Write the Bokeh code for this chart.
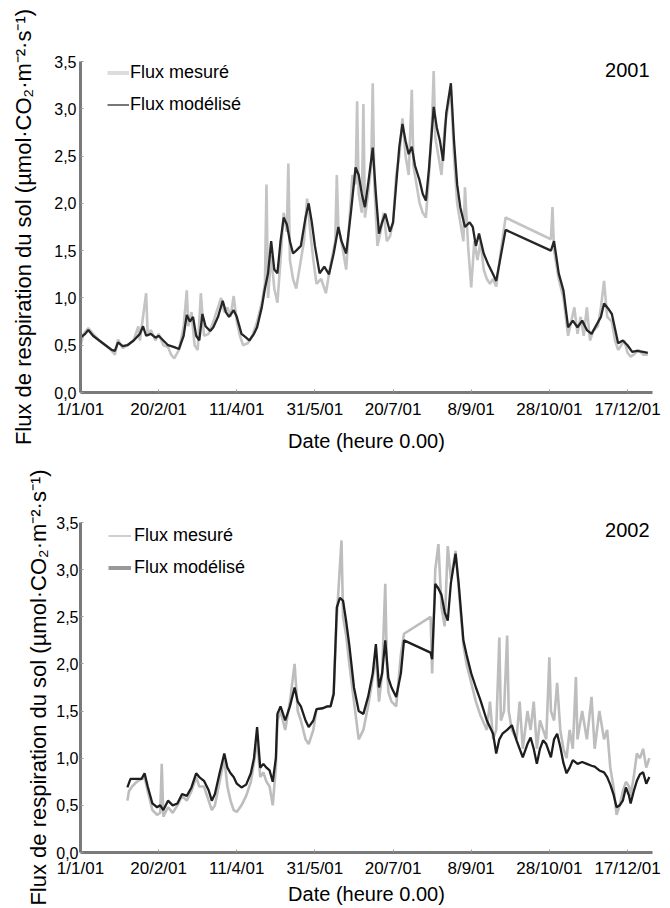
from bokeh.plotting import figure
from bokeh.models import Range1d, FixedTicker, Legend, LegendItem, Label
from bokeh.layouts import column
from bokeh.embed import file_html
from bokeh.resources import INLINE

FONT = "Liberation Sans"

tick_days = [0, 50, 100, 150, 200, 250, 300, 350]
tick_labels = ["1/1/01", "20/2/01", "11/4/01", "31/5/01", "20/7/01", "8/9/01", "28/10/01", "17/12/01"]
y_ticks = [0, 0.5, 1.0, 1.5, 2.0, 2.5, 3.0, 3.5]
y_tick_labels = ["0,0", "0,5", "1,0", "1,5", "2,0", "2,5", "3,0", "3,5"]

# ---- 2001 ----
mod01_days = [0, 3, 5, 8, 12, 16, 20, 22, 24, 27, 30, 34, 38, 40, 42, 45, 48, 50, 53, 56, 60, 63, 66, 68, 70, 72, 74, 76, 78, 80, 83, 85, 88, 91, 93, 95, 98, 100, 103, 106, 108, 111, 113, 116, 118, 120, 122, 124, 126, 128, 130, 132, 134, 136, 138, 141, 144, 146, 148, 150, 153, 156, 159, 162, 165, 167, 170, 173, 176, 178, 180, 182, 184, 187, 189, 191, 193, 195, 198, 200, 202, 204, 206, 208, 210, 212, 214, 217, 219, 221, 223, 226, 228, 230, 232, 234, 237, 239, 241, 243, 246, 249, 251, 253, 255, 258, 261, 264, 266, 269, 272, 301, 303, 306, 309, 312, 315, 318, 321, 324, 327, 330, 333, 335, 338, 340, 344, 347, 350, 353, 356, 360, 363]
mod01_vals = [0.58, 0.62, 0.66, 0.6, 0.55, 0.5, 0.45, 0.44, 0.53, 0.49, 0.5, 0.55, 0.62, 0.7, 0.6, 0.62, 0.58, 0.6, 0.55, 0.5, 0.48, 0.46, 0.6, 0.82, 0.75, 0.8, 0.6, 0.55, 0.83, 0.7, 0.65, 0.69, 0.8, 0.97, 0.85, 0.8, 0.87, 0.8, 0.62, 0.58, 0.55, 0.62, 0.69, 0.9, 1.1, 1.26, 1.6, 1.3, 1.26, 1.6, 1.85, 1.78, 1.6, 1.47, 1.5, 1.55, 1.85, 2.0, 1.8, 1.55, 1.26, 1.33, 1.25, 1.47, 1.75, 1.6, 1.47, 1.9, 2.38, 2.3, 2.1, 1.96, 2.2, 2.59, 2.1, 1.68, 1.8, 1.89, 1.7, 1.8, 2.2, 2.6, 2.84, 2.66, 2.52, 2.6, 2.4, 2.24, 2.1, 2.03, 2.37, 3.02, 2.8, 2.66, 2.45, 2.95, 3.27, 2.66, 2.2, 1.96, 1.75, 1.8, 1.75, 1.55, 1.68, 1.47, 1.35, 1.25, 1.18, 1.45, 1.72, 1.5, 1.6, 1.26, 1.08, 0.69, 0.76, 0.69, 0.76, 0.66, 0.62, 0.71, 0.8, 0.94, 0.88, 0.83, 0.52, 0.55, 0.5, 0.43, 0.44, 0.43, 0.42]
meas01_days = [0, 2, 5, 8, 12, 16, 20, 22, 24, 27, 30, 34, 37, 38, 40, 42, 43, 45, 48, 50, 53, 56, 58, 60, 63, 66, 68, 69, 71, 73, 75, 77, 79, 82, 85, 88, 90, 92, 94, 96, 98, 100, 102, 104, 107, 110, 113, 116, 118, 119, 120, 122, 124, 126, 128, 130, 132, 133, 134, 136, 138, 140, 143, 145, 147, 149, 151, 154, 157, 160, 163, 164, 165, 168, 170, 172, 174, 176, 177, 178, 180, 181, 182, 184, 186, 187, 188, 190, 192, 194, 196, 198, 200, 202, 204, 206, 208, 210, 212, 213, 215, 217, 219, 221, 223, 225, 226, 227, 229, 231, 233, 235, 237, 239, 241, 243, 245, 246, 248, 250, 252, 254, 256, 258, 260, 262, 264, 266, 269, 272, 301, 302, 303, 306, 309, 312, 314, 316, 318, 320, 322, 324, 326, 328, 331, 333, 335, 337, 340, 342, 344, 346, 348, 350, 352, 354, 357, 360, 363]
meas01_vals = [0.5, 0.62, 0.68, 0.62, 0.55, 0.5, 0.44, 0.4, 0.56, 0.47, 0.5, 0.55, 0.7, 0.55, 0.8, 1.05, 0.6, 0.66, 0.55, 0.62, 0.5, 0.48, 0.4, 0.36, 0.45, 0.7, 1.08, 0.7, 0.85, 0.5, 0.45, 1.05, 0.6, 0.62, 0.75, 0.9, 1.0, 0.85, 0.9, 0.8, 1.02, 0.75, 0.6, 0.5, 0.52, 0.6, 0.75, 0.95, 1.15, 2.2, 1.0, 1.45, 1.1, 0.95, 1.4, 1.9, 1.7, 2.42, 1.4, 1.2, 1.1, 1.3, 1.6, 2.05, 1.7, 1.4, 1.15, 1.2, 1.05, 1.35, 1.6, 2.3, 1.75, 1.5, 1.3, 1.8, 2.3, 2.2, 3.08, 2.1, 1.9, 3.05, 1.85, 2.1, 2.4, 3.27, 2.2, 1.55, 1.7, 1.9, 1.6, 1.65, 1.8, 2.3, 2.5, 2.9, 2.5, 2.3, 3.2, 2.4, 2.2, 2.0, 1.9, 1.85, 2.3, 2.9, 3.4, 2.7, 2.5, 2.3, 2.8, 3.0, 3.2, 2.5, 2.0, 1.8, 1.6, 2.17, 1.55, 1.11, 1.6, 1.4, 1.6, 1.3, 1.2, 1.15, 1.2, 1.12, 1.5, 1.85, 1.62, 1.96, 1.5, 1.2, 1.0, 0.6, 0.75, 0.9, 0.62, 0.8, 0.6, 0.9, 0.55, 0.65, 0.7, 0.9, 1.18, 0.8, 0.75, 0.55, 0.45, 0.5, 0.55, 0.42, 0.38, 0.4, 0.45, 0.4, 0.4]

# ---- 2002 ----
mod02_days = [30, 32, 36, 39, 41, 43, 46, 49, 51, 53, 56, 59, 62, 65, 68, 71, 74, 76, 79, 82, 84, 86, 89, 92, 94, 96, 98, 100, 103, 106, 109, 111, 113, 115, 117, 119, 121, 123, 125, 126, 128, 131, 134, 137, 139, 141, 144, 146, 149, 151, 155, 158, 160, 162, 164, 166, 168, 170, 172, 175, 178, 181, 184, 187, 189, 191, 193, 195, 197, 199, 202, 205, 207, 224, 225, 227, 229, 231, 233, 235, 237, 240, 242, 245, 247, 250, 253, 256, 260, 264, 266, 268, 270, 273, 276, 279, 281, 283, 286, 288, 290, 292, 294, 296, 298, 301, 303, 305, 307, 309, 311, 313, 315, 318, 321, 324, 327, 329, 332, 335, 337, 339, 341, 343, 345, 347, 349, 351, 352, 354, 356, 358, 360, 362, 364]
mod02_vals = [0.69, 0.78, 0.78, 0.78, 0.84, 0.7, 0.52, 0.48, 0.5, 0.45, 0.55, 0.5, 0.52, 0.62, 0.6, 0.69, 0.84, 0.8, 0.76, 0.66, 0.55, 0.62, 0.84, 1.05, 0.9, 0.84, 0.8, 0.73, 0.69, 0.72, 0.84, 1.0, 1.33, 0.9, 0.94, 0.9, 0.87, 0.75, 1.0, 1.47, 1.55, 1.4, 1.55, 1.75, 1.6, 1.55, 1.4, 1.33, 1.4, 1.52, 1.53, 1.55, 1.55, 1.68, 2.6, 2.7, 2.67, 2.45, 2.2, 1.75, 1.5, 1.47, 1.65, 1.9, 2.21, 1.75, 1.9, 2.25, 1.85, 1.75, 1.65, 1.9, 2.25, 2.12, 2.05, 2.85, 2.8, 2.73, 2.55, 2.46, 2.86, 3.17, 2.85, 2.25, 2.1, 1.9, 1.75, 1.61, 1.4, 1.26, 1.05, 1.2, 1.26, 1.3, 1.35, 1.19, 1.1, 1.01, 1.15, 1.22, 1.1, 0.94, 1.1, 1.19, 1.15, 1.01, 1.2, 1.26, 1.12, 0.95, 0.84, 0.9, 0.98, 0.94, 0.96, 0.94, 0.92, 0.91, 0.87, 0.85, 0.8, 0.72, 0.62, 0.48, 0.5, 0.55, 0.69, 0.6, 0.52, 0.65, 0.76, 0.83, 0.85, 0.73, 0.8]
meas02_days = [30, 31, 33, 36, 39, 41, 43, 46, 49, 51, 52, 53, 56, 59, 62, 65, 68, 71, 74, 76, 79, 82, 84, 86, 89, 92, 94, 96, 98, 100, 103, 106, 109, 111, 113, 115, 117, 119, 121, 123, 125, 126, 128, 131, 134, 137, 139, 141, 144, 146, 149, 151, 155, 158, 160, 162, 164, 167, 168, 170, 172, 175, 178, 181, 184, 187, 189, 191, 193, 195, 196, 197, 199, 202, 205, 207, 224, 225, 227, 229, 231, 233, 235, 237, 240, 242, 245, 247, 250, 253, 256, 260, 262, 264, 266, 268, 269, 271, 273, 274, 276, 279, 281, 283, 286, 288, 290, 292, 294, 296, 298, 300, 301, 303, 305, 307, 309, 311, 313, 315, 317, 318, 321, 324, 327, 329, 332, 335, 337, 339, 341, 343, 345, 347, 349, 351, 352, 354, 356, 358, 360, 362, 364]
meas02_vals = [0.55, 0.65, 0.7, 0.75, 0.78, 0.8, 0.65, 0.45, 0.4, 0.42, 0.94, 0.38, 0.48, 0.42, 0.5, 0.6, 0.55, 0.65, 0.8, 0.7, 0.7, 0.55, 0.45, 0.5, 0.75, 1.0, 0.7, 0.55, 0.45, 0.43, 0.5, 0.6, 0.75, 0.95, 1.2, 0.8, 0.85, 0.75, 0.7, 0.5, 0.9, 1.4, 1.5, 1.3, 1.6, 2.0, 1.5, 1.4, 1.2, 1.15, 1.3, 1.52, 1.53, 1.55, 1.55, 1.7, 2.5, 3.31, 2.5, 2.3, 2.0, 1.6, 1.2, 1.3, 1.55, 1.85, 2.1, 1.6, 1.9, 2.85, 2.0, 1.7, 1.6, 1.55, 2.1, 2.32, 2.5, 1.9, 3.0, 3.27, 2.6, 2.4, 3.25, 2.9, 3.2, 2.8, 2.2, 2.0, 1.8, 1.6, 1.45, 1.3, 1.6, 1.2, 1.3, 2.28, 1.4, 1.5, 2.3, 1.5, 1.3, 1.2, 1.6, 1.1, 1.5, 1.3, 1.6, 1.1, 1.4, 1.3, 1.2, 2.07, 1.5, 1.4, 1.8, 1.3, 1.1, 1.0, 1.3, 1.1, 1.86, 1.2, 1.5, 1.2, 1.65, 1.1, 1.5, 1.2, 1.3, 0.9, 0.7, 0.4, 0.5, 0.65, 0.75, 0.7, 0.6, 0.8, 1.05, 1.0, 1.1, 0.9, 1.0]

Y_LABEL = "Flux de respiration du sol (\u00b5mol\u00b7CO\u2082\u00b7m\u207b\u00b2\u00b7s\u207b\u00b9)"
NAN = float("nan")


def make_panel(days_meas, vals_meas, days_mod, vals_mod, year, cfg):
    p = figure(width=670, height=cfg["height"], output_backend="svg", toolbar_location=None,
               x_range=Range1d(0, 366), y_range=Range1d(0, 3.5),
               min_border_left=cfg["left"], min_border_right=cfg["right"],
               min_border_top=cfg["top"], min_border_bottom=cfg["bottom"])
    p.outline_line_color = None
    p.xgrid.visible = False
    p.ygrid.visible = False

    p.line(days_meas, vals_meas, line_color=cfg["meas_color"], line_width=cfg["meas_w"])
    p.line(days_mod, vals_mod, line_color=cfg["mod_color"], line_width=cfg["mod_w"])

    # legend swatches: renderers holding no visible data, only the legend style
    lg_meas = p.line([NAN], [NAN], line_color=cfg["lg_meas_color"], line_width=cfg["lg_meas_w"])
    lg_mod = p.line([NAN], [NAN], line_color=cfg["lg_mod_color"], line_width=cfg["lg_mod_w"])
    legend = Legend(items=[LegendItem(label="Flux mesur\u00e9", renderers=[lg_meas]),
                           LegendItem(label="Flux mod\u00e9lis\u00e9", renderers=[lg_mod])],
                    location=cfg["legend_loc"], padding=0, margin=0, spacing=11,
                    label_height=21, glyph_height=21, glyph_width=cfg["glyph_w"],
                    label_standoff=cfg["lg_standoff"],
                    label_text_font=FONT, label_text_font_size="18px",
                    label_text_color="black",
                    border_line_alpha=0, background_fill_alpha=0)
    p.add_layout(legend, "center")

    p.xaxis.ticker = FixedTicker(ticks=tick_days)
    p.xaxis.major_label_overrides = dict(zip(tick_days, tick_labels))
    p.yaxis.ticker = FixedTicker(ticks=y_ticks)
    p.yaxis.major_label_overrides = dict(zip(y_ticks, y_tick_labels))

    for ax in (p.xaxis, p.yaxis):
        ax.axis_line_color = "#7a7a7a"
        ax.axis_line_width = 3
        ax.major_tick_line_color = "#9a9a9a"
        ax.major_tick_in = 3
        ax.major_tick_out = 0
        ax.minor_tick_line_color = None
        ax.major_label_text_font = FONT
        ax.major_label_text_color = "black"
        ax.axis_label_text_font = FONT
        ax.axis_label_text_font_style = "normal"
        ax.axis_label_text_color = "black"

    p.xaxis.major_label_text_font_size = "17px"
    p.yaxis.major_label_text_font_size = "16px"
    p.xaxis.major_label_standoff = cfg["x_standoff"]
    p.yaxis.major_label_standoff = cfg["y_standoff"]
    p.xaxis.axis_label = "Date (heure 0.00)"
    p.xaxis.axis_label_text_font_size = "20px"
    p.xaxis.axis_label_standoff = cfg["xlab_standoff"]
    p.yaxis.axis_label = Y_LABEL
    p.yaxis.axis_label_text_font_size = "22px"
    p.yaxis.axis_label_standoff = cfg["ylab_standoff"]

    p.add_layout(Label(x=366, y=3.5, x_offset=-3, y_offset=cfg["year_dy"], text=year,
                       text_align="right", text_baseline="middle",
                       text_font=FONT, text_font_size="20px", text_color="black"))
    return p


cfg1 = dict(height=455, left=77, right=15, top=61, bottom=63,
            meas_color="#c4c4c4", meas_w=2.6, mod_color="#262626", mod_w=2.3,
            lg_meas_color="#dcdcdc", lg_meas_w=4, lg_mod_color="#777777", lg_mod_w=2,
            legend_loc=(27, 277), glyph_w=22, lg_standoff=1,
            x_standoff=7, y_standoff=4, xlab_standoff=8, ylab_standoff=15, year_dy=-8)
cfg2 = dict(height=453, left=80, right=18, top=67, bottom=56,
            meas_color="#bdbdbd", meas_w=2.6, mod_color="#1e1e1e", mod_w=2.3,
            lg_meas_color="#cfcfcf", lg_meas_w=2, lg_mod_color="#999999", lg_mod_w=4,
            legend_loc=(28, 274), glyph_w=23, lg_standoff=3,
            x_standoff=6, y_standoff=2, xlab_standoff=2, ylab_standoff=2, year_dy=-7)

p1 = make_panel(meas01_days, meas01_vals, mod01_days, mod01_vals, "2001", cfg1)
p2 = make_panel(meas02_days, meas02_vals, mod02_days, mod02_vals, "2002", cfg2)

layout = column(p1, p2, spacing=0)
open("out.html", "w").write(file_html(layout, INLINE))
